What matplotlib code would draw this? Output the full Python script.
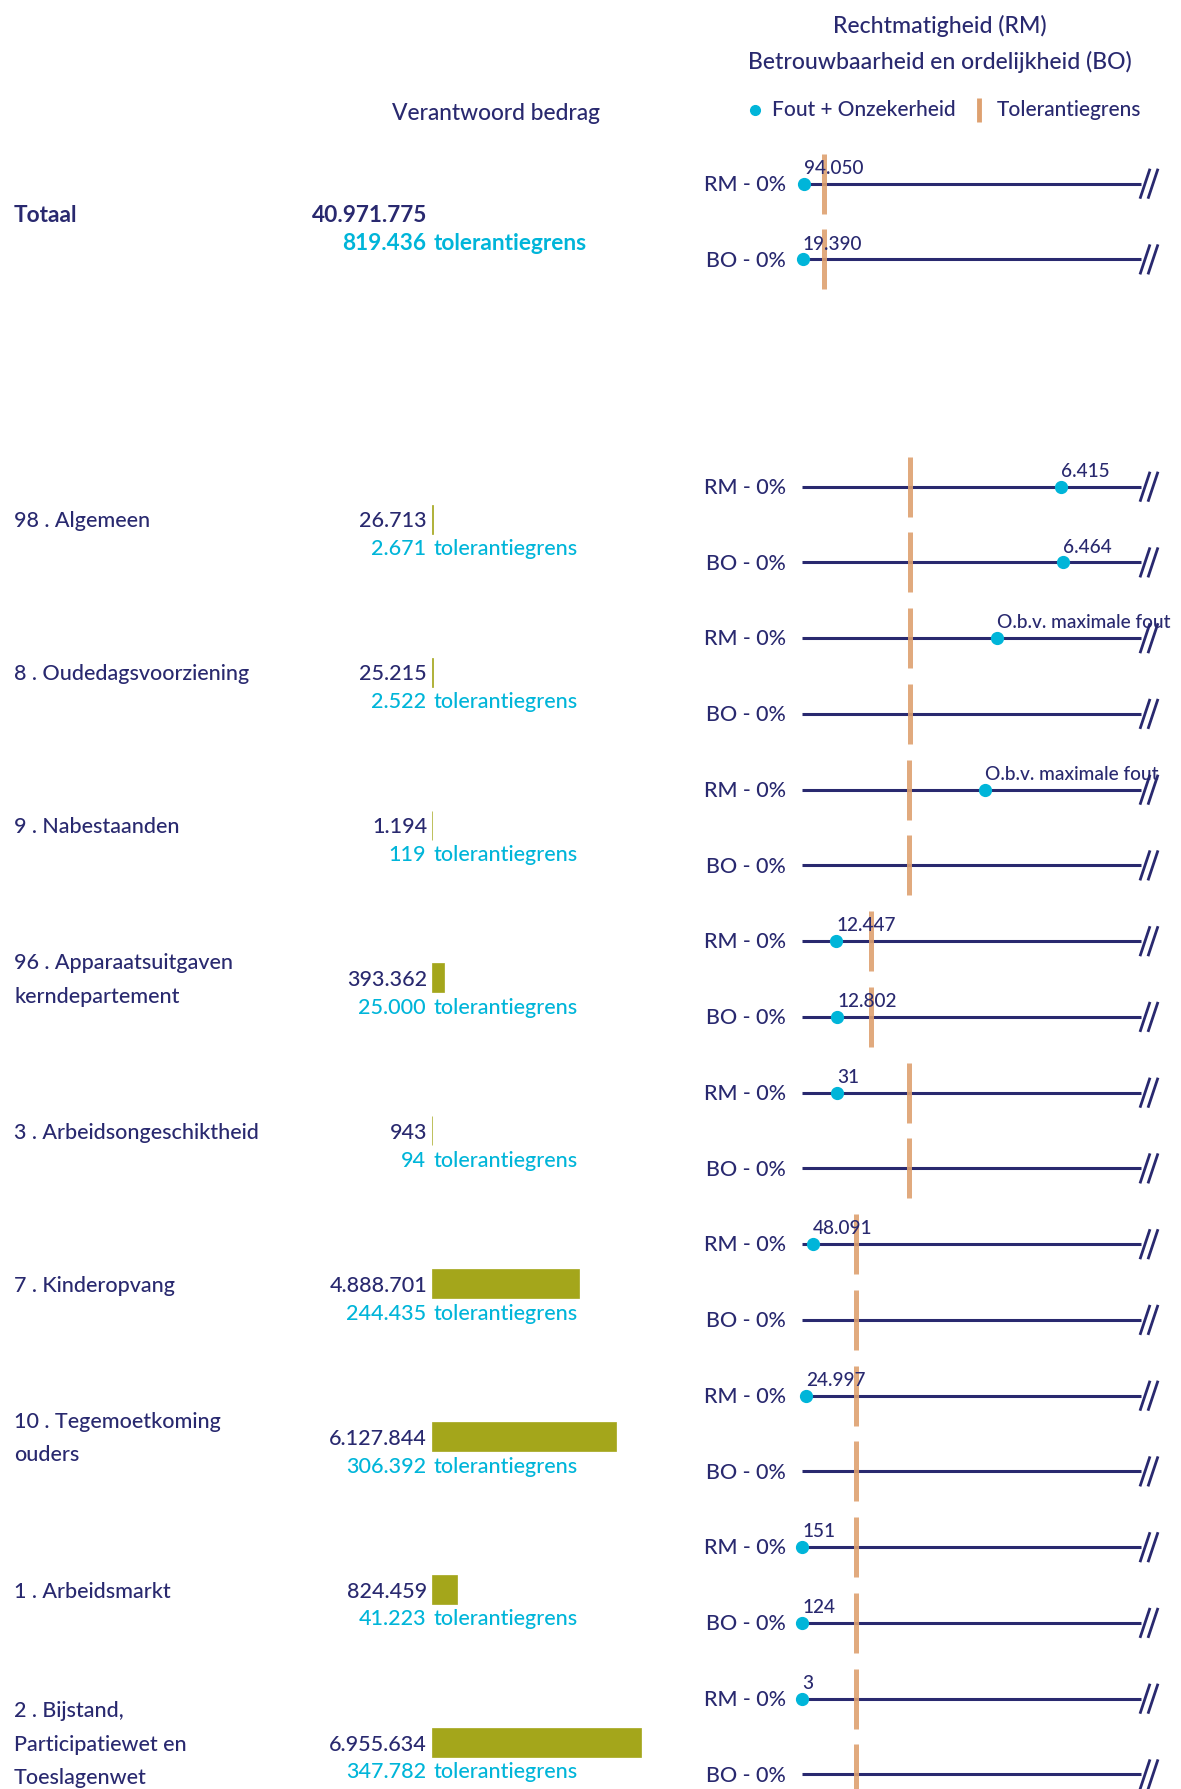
import matplotlib
matplotlib.use("Agg")
import matplotlib.pyplot as plt

plt.rcParams['font.family'] = ['Lato', 'DejaVu Sans']

# ---------------- data ----------------
categories = ["Totaal",
              "98 . Algemeen",
              "8 . Oudedagsvoorziening",
              "9 . Nabestaanden",
              "96 . Apparaatsuitgaven\nkerndepartement",
              "3 . Arbeidsongeschiktheid",
              "7 . Kinderopvang",
              "10 . Tegemoetkoming\nouders",
              "1 . Arbeidsmarkt",
              "2 . Bijstand,\nParticipatiewet en\nToeslagenwet"]
amounts = [40971775, 26713, 25215, 1194, 393362, 943, 4888701, 6127844, 824459, 6955634]
tolerances = [819436, 2671, 2522, 119, 25000, 94, 244435, 306392, 41223, 347782]
rm_errors = [94050, 6415, None, None, 12447, 31, 48091, 24997, 151, 3]
bo_errors = [19390, 6464, None, None, 12802, None, None, None, 124, None]
# rows where the error is given "O.b.v. maximale fout": estimated position (% of amount)
rm_maxfout_pct = [None, None, 18.1, 17.0, None, None, None, None, None, None]
bo_maxfout_pct = [None] * 10
rm_labels = ["RM - 0%"] * 10
bo_labels = ["BO - 0%"] * 10
maxfout_text = "O.b.v. maximale fout"

# ---------------- style ----------------
NAVY = "#29296f"
CYAN = "#00b5d9"
ORANGE = "#dea170"
OLIVE = "#a4a61b"
FW = "medium"

W, H = 1181, 1789
fig = plt.figure(figsize=(W / 100, H / 100), dpi=100)
fig.patch.set_facecolor("white")

# row slots (Totaal, gap, then categories)
slot = [0] + list(range(2, 2 + len(categories) - 1))
# left column (texts, bars) and right column (dot strips) vertical layout in px
L_Y0, L_STEP, TOL_DY = 213.4, 152.9, 27.7
R_Y0, R_STEP, BO_DY = 183.7, 151.5, 75.7
TXT_DY = 2.2   # visual centring correction for text

def nl(v):
    return f"{v:,}".replace(",", ".")

# overlay axes for text (pixel coordinates)
axt = fig.add_axes([0, 0, 1, 1])
axt.set_xlim(0, W)
axt.set_ylim(H, 0)
axt.axis("off")

# bar axes: x in euros
BAR_L, BAR_R = 432, 700
PX_PER_UNIT = 3.01e-5
axb = fig.add_axes([BAR_L / W, 0, (BAR_R - BAR_L) / W, 1])
axb.set_xlim(0, (BAR_R - BAR_L) / PX_PER_UNIT)
axb.set_ylim(H, 0)
axb.axis("off")

# dot axes: x in percent of amount
DOT_L, DOT_R = 802, 1141
PX_PER_PCT = 10.78
XMAX = (DOT_R - DOT_L) / PX_PER_PCT
axd = fig.add_axes([DOT_L / W, 0, (DOT_R - DOT_L) / W, 1])
axd.set_xlim(0, XMAX)
axd.set_ylim(H, 0)
axd.axis("off")

LBL_FS = 15.5
BOLD_FS = 16.3
SMALL_FS = 13.7

# ---------------- header ----------------
axt.text(940, 26, "Rechtmatigheid (RM)", ha="center", va="center",
         fontsize=16.6, color=NAVY, fontweight=FW)
axt.text(940, 61.5, "Betrouwbaarheid en ordelijkheid (BO)", ha="center",
         va="center", fontsize=16.6, color=NAVY, fontweight=FW)
axt.text(496, 113, "Verantwoord bedrag", ha="center", va="center",
         fontsize=16.4, color=NAVY, fontweight=FW)
axt.plot([755], [110], "o", ms=7, color=CYAN)
axt.text(772, 110, "Fout + Onzekerheid", ha="left", va="center",
         fontsize=15, color=NAVY, fontweight=FW)
axt.plot([979, 979], [98, 122], color=ORANGE, lw=3.5, solid_capstyle="butt")
axt.text(997, 110, "Tolerantiegrens", ha="left", va="center",
         fontsize=15, color=NAVY, fontweight=FW)

# ---------------- rows ----------------
SEG = 30   # half-height of tolerance segment in px
for i, cat in enumerate(categories):
    ya = L_Y0 + slot[i] * L_STEP
    yt = ya + TOL_DY
    fw = "bold" if i == 0 else FW
    fs = BOLD_FS if i == 0 else LBL_FS
    # category label
    axt.text(14, ya + TXT_DY, cat, ha="left", va="center", fontsize=fs,
             color=NAVY, fontweight=fw, linespacing=1.83)
    # amount + tolerance texts
    axt.text(BAR_L - 5, ya + TXT_DY, nl(amounts[i]), ha="right", va="center",
             fontsize=fs, color=NAVY, fontweight=fw)
    axt.text(BAR_L - 6, yt + TXT_DY, nl(tolerances[i]), ha="right", va="center",
             fontsize=fs, color=CYAN, fontweight=fw)
    axt.text(BAR_L + 2, yt + TXT_DY, "tolerantiegrens", ha="left", va="center",
             fontsize=fs, color=CYAN, fontweight=fw)
    # bar
    if i > 0:
        axb.barh(ya, amounts[i], height=29, left=0, color=OLIVE,
                 edgecolor=OLIVE, lw=0.5)

    tol_pct = tolerances[i] / amounts[i] * 100
    yr = R_Y0 + slot[i] * R_STEP
    for errs, mpct, lab, off in [(rm_errors, rm_maxfout_pct, rm_labels, 0.0),
                                 (bo_errors, bo_maxfout_pct, bo_labels, BO_DY)]:
        y = yr + off
        axt.text(DOT_L - 16, y + 1.2, lab[i], ha="right", va="center",
                 fontsize=LBL_FS, color=NAVY, fontweight=FW)
        axd.plot([0, XMAX], [y, y], color=NAVY, lw=2.2, solid_capstyle="butt",
                 zorder=2, clip_on=False)
        # axis break marks
        for dx in (0, 8):
            axt.plot([DOT_R - 1 + dx, DOT_R + 9 + dx], [y + 15, y - 15],
                     color=NAVY, lw=2.0, solid_capstyle="butt")
        # tolerance segment
        axd.plot([tol_pct, tol_pct], [y - SEG, y + SEG], color=ORANGE, lw=3.6,
                 alpha=0.9, solid_capstyle="butt", zorder=3, clip_on=False)
        # error dot
        e = errs[i]
        if e is not None:
            xv = e / amounts[i] * 100
            label = nl(e)
        elif mpct[i] is not None:
            xv = mpct[i]
            label = maxfout_text
        else:
            continue
        axd.plot([xv], [y], "o", ms=8.5, color=CYAN, zorder=4, clip_on=False)
        axd.annotate(label, (xv, y), xytext=(0, 11), textcoords="offset points",
                     ha="left", va="center", fontsize=SMALL_FS, color=NAVY,
                     fontweight=FW, zorder=5, annotation_clip=False)

fig.savefig("out.png", dpi=100, facecolor="white")
